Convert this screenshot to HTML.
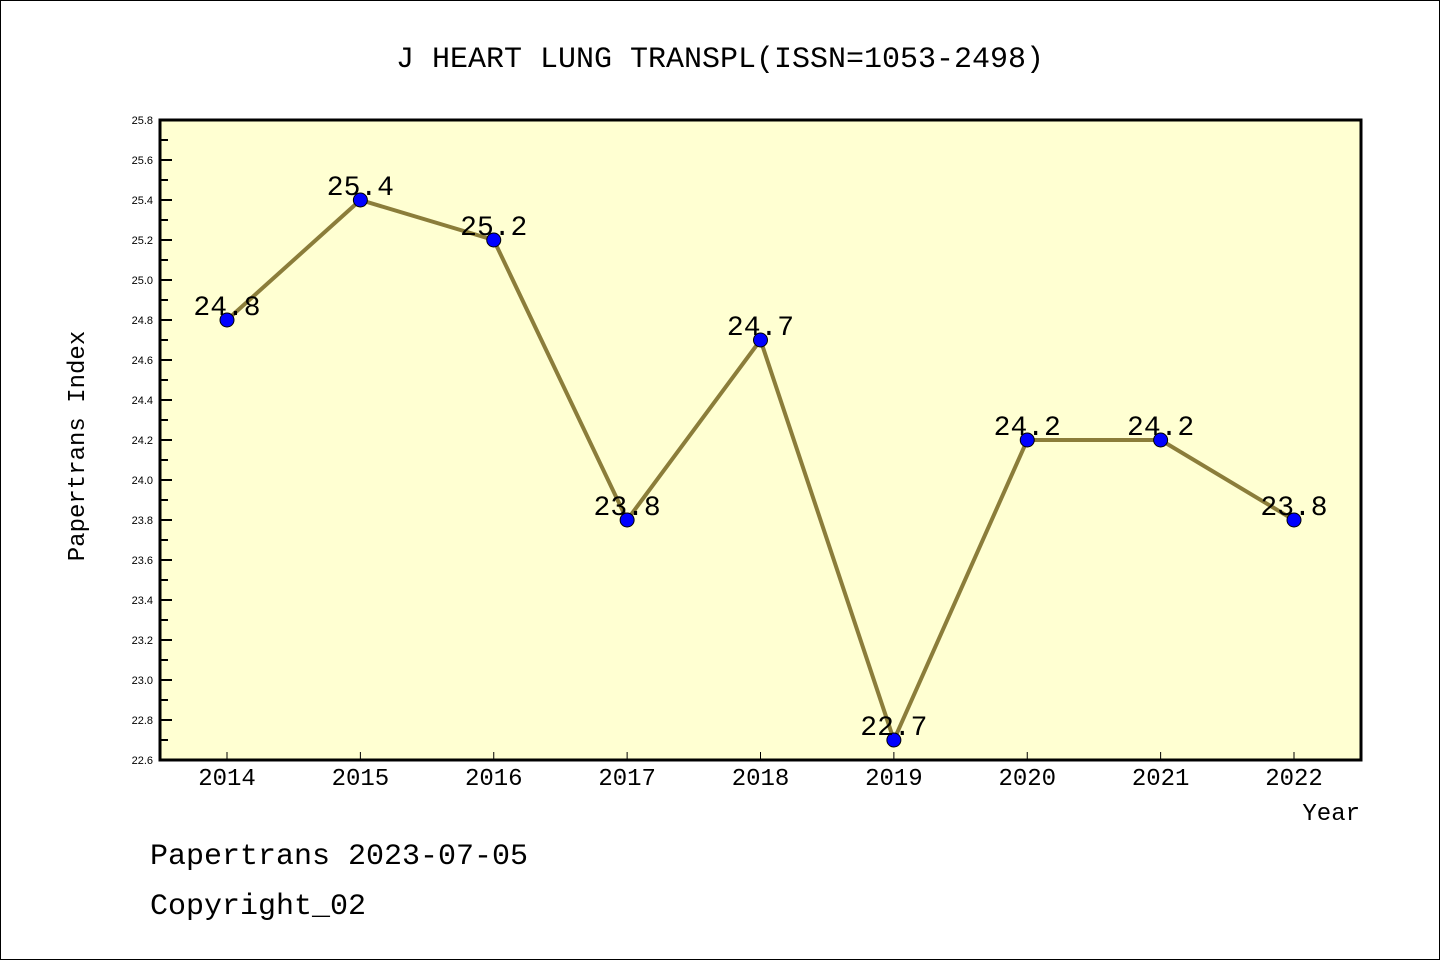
<!DOCTYPE html>
<html><head><meta charset="utf-8"><style>
html,body{margin:0;padding:0;background:#fff}
svg{display:block;font-family:"Liberation Mono","Noto Sans CJK SC",monospace}
</style></head><body>
<svg id="chart" width="1440" height="960" viewBox="0 0 1440 960">
<rect x="0.5" y="0.5" width="1439" height="959" fill="#fff" stroke="#000"/>
<text x="720" y="67" text-anchor="middle" font-size="30">J HEART LUNG TRANSPL(ISSN=1053-2498)</text>
<rect x="160" y="120" width="1201" height="640" fill="#ffffd2"/>
<g id="yaxis"></g>
<g id="xaxis"></g>
<g id="series"></g>
<rect x="160" y="120" width="1201" height="640" fill="none" stroke="#000" stroke-width="3"/>
<text transform="translate(84,446) rotate(-90)" text-anchor="middle" font-size="24">Papertrans Index</text>
<text x="1360" y="820" text-anchor="end" font-size="24">Year</text>
<text x="150" y="864" font-size="30">Papertrans 2023-07-05</text>
<text x="150" y="914" font-size="30">Copyright_02</text>
</svg>
<script>
const years = ["2014","2015","2016","2017","2018","2019","2020","2021","2022"];
const values = [24.8,25.4,25.2,23.8,24.7,22.7,24.2,24.2,23.8];
const valueLabels = ["24.8","25.4","25.2","23.8","24.7","22.7","24.2","24.2","23.8"];
const yTicks = ["22.6","22.8","23.0","23.2","23.4","23.6","23.8","24.0","24.2","24.4","24.6","24.8","25.0","25.2","25.4","25.6","25.8"];
const yMin = 22.6, yMax = 25.8;
const ns = "http://www.w3.org/2000/svg";
function ys(v){return 760 - (v - yMin) / (yMax - yMin) * 640;}
function xs(i){return 227 + i * (1294 - 227) / (years.length - 1);}
function mk(tag, attrs, parent, text){const e=document.createElementNS(ns,tag);for(const k in attrs)e.setAttribute(k,attrs[k]);if(text!==undefined)e.textContent=text;parent.appendChild(e);return e;}
const ya=document.getElementById('yaxis'), xa=document.getElementById('xaxis'), sg=document.getElementById('series');
yTicks.forEach((t,i)=>{
  const y=ys(parseFloat(t));
  const l=mk('line',{x1:160,x2:172,y1:y,y2:y,stroke:'#000','stroke-width':2},ya);
  
  
  const tx=mk('text',{x:153,y:y+4,'text-anchor':'end','font-size':11,'font-family':'Liberation Sans, sans-serif'},ya,t);
  
  
  if(i<yTicks.length-1){
    const ym=ys(parseFloat(t)+0.1);
    const m=mk('line',{x1:160,x2:168,y1:ym,y2:ym,stroke:'#000','stroke-width':2},ya);
    
    
  }
});
years.forEach((yr,i)=>{
  const x=xs(i);
  const l=mk('line',{x1:x,x2:x,y1:760,y2:752,stroke:'#000','stroke-width':1},xa);
  
  
  const tx=mk('text',{x:x,y:785,'text-anchor':'middle','font-size':24},xa,yr);
  
  
});
const pts=values.map((v,i)=>xs(i)+','+ys(v)).join(' ');
const pl=mk('polyline',{points:pts,fill:'none',stroke:'#8b7d3a','stroke-width':4,'stroke-linejoin':'round'},sg);


values.forEach((v,i)=>{
  const c=mk('circle',{cx:xs(i),cy:ys(v),r:7,fill:'#0000ff',stroke:'#000','stroke-width':1},sg);
  
  
  const t=mk('text',{x:xs(i),y:ys(v)-5,'text-anchor':'middle','font-size':28},sg,valueLabels[i]);
  
  
});
</script>
</body></html>
